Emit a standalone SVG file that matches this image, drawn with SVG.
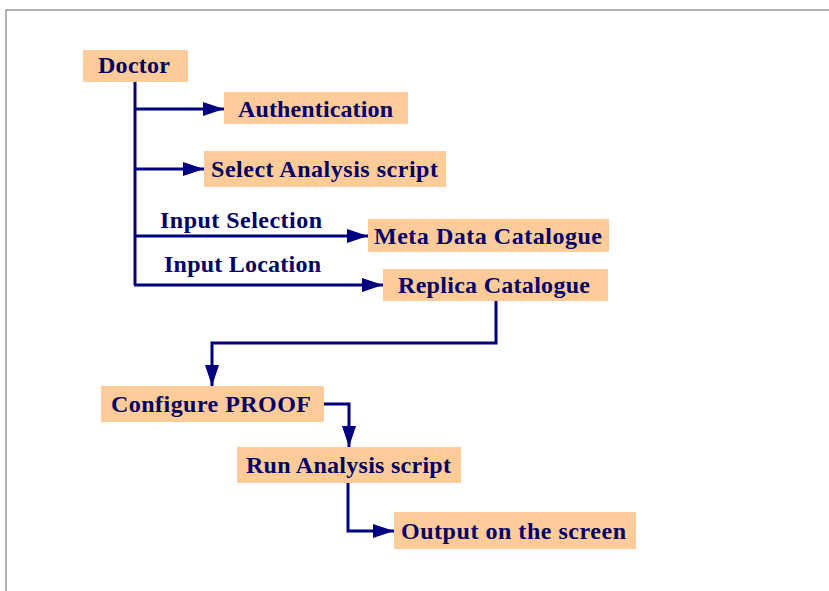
<svg xmlns="http://www.w3.org/2000/svg" width="829" height="591" viewBox="0 0 829 591">
<defs>
<style>
.box{fill:#FFCC99}
.t{font-family:"Liberation Serif","Times New Roman",serif;font-weight:bold;font-size:24px;fill:#000066}
.c{fill:none;stroke:#000080;stroke-width:3}
</style>
<marker id="ah" markerUnits="userSpaceOnUse" markerWidth="22" markerHeight="16" refX="21" refY="8" orient="auto">
<path d="M0,1 L21,8 L0,15 Z" fill="#000080"/>
</marker>
</defs>
<rect x="0" y="0" width="829" height="591" fill="#ffffff"/>
<path d="M6,591 V10 H829" fill="none" stroke="#999999" stroke-width="1.5"/>
<g id="connectors">
<path class="c" d="M135,82 V285"/>
<path class="c" d="M135,109 H224" marker-end="url(#ah)"/>
<path class="c" d="M135,169 H204" marker-end="url(#ah)"/>
<path class="c" d="M135,236 H368" marker-end="url(#ah)"/>
<path class="c" d="M134,285 H383" marker-end="url(#ah)"/>
<path class="c" d="M496,301 V343 H212 V386" marker-end="url(#ah)"/>
<path class="c" d="M324,404 H349 V447" marker-end="url(#ah)"/>
<path class="c" d="M348,483 V531 H394" marker-end="url(#ah)"/>
<text class="t" x="160" y="228" textLength="162" lengthAdjust="spacing">Input Selection</text>
<text class="t" x="164" y="272" textLength="157" lengthAdjust="spacing">Input Location</text>
</g>
<g id="doctor"><rect class="box" x="83" y="50" width="105" height="32"/><text class="t" x="98" y="73" textLength="72" lengthAdjust="spacing">Doctor</text></g>
<g id="authentication"><rect class="box" x="224" y="92" width="184" height="32"/><text class="t" x="238" y="117" textLength="155" lengthAdjust="spacing">Authentication</text></g>
<g id="select"><rect class="box" x="204" y="151" width="242" height="36"/><text class="t" x="211" y="177" textLength="227" lengthAdjust="spacing">Select Analysis script</text></g>
<g id="meta"><rect class="box" x="368" y="219" width="241" height="33"/><text class="t" x="374" y="244" textLength="228" lengthAdjust="spacing">Meta Data Catalogue</text></g>
<g id="replica"><rect class="box" x="383" y="269" width="225" height="32"/><text class="t" x="398" y="293" textLength="192" lengthAdjust="spacing">Replica Catalogue</text></g>
<g id="configure"><rect class="box" x="101" y="386" width="223" height="36"/><text class="t" x="111" y="412" textLength="200" lengthAdjust="spacing">Configure PROOF</text></g>
<g id="run"><rect class="box" x="237" y="447" width="224" height="36"/><text class="t" x="246" y="473" textLength="205" lengthAdjust="spacing">Run Analysis script</text></g>
<g id="output"><rect class="box" x="394" y="512" width="242" height="37"/><text class="t" x="401" y="539" textLength="225" lengthAdjust="spacing">Output on the screen</text></g>
</svg>
